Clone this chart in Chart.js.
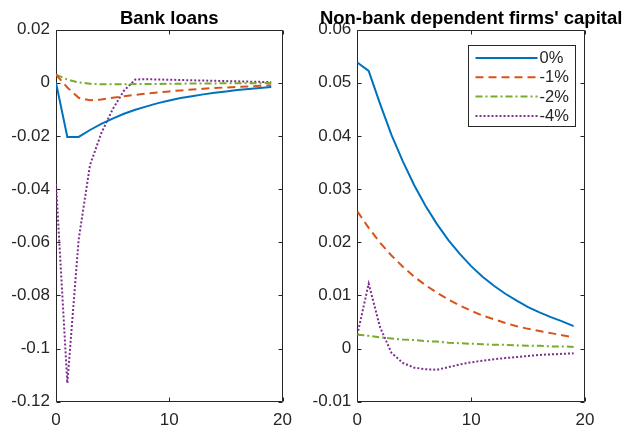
<!DOCTYPE html>
<html>
<head>
<meta charset="utf-8">
<script src="https://cdn.jsdelivr.net/npm/chart.js@4/dist/chart.umd.min.js"></script>
<style>
  html, body { margin: 0; padding: 0; background: #ffffff; }
  #wrap { position: relative; width: 626px; height: 428px; overflow: hidden; background: #ffffff; }
  .panel { position: absolute; top: 0; height: 428px; }
  #p1 { left: 0; width: 300px; }
  #p2 { left: 300px; width: 326px; }
</style>
</head>
<body>
<div id="wrap">
  <div class="panel" id="p1"><canvas id="loansChart"></canvas></div>
  <div class="panel" id="p2"><canvas id="capitalChart"></canvas></div>
</div>
<script>
// Quarters after the shock
const periods = [0, 1, 2, 3, 4, 5, 6, 7, 8, 9, 10, 11, 12, 13, 14, 15, 16, 17, 18, 19];
const seriesLabels = ['0%', '-1%', '-2%', '-4%'];

// Bank loans responses
const loans0  = [0, -0.0204, -0.0204, -0.0178, -0.0155, -0.0135, -0.0117, -0.0102, -0.0089, -0.0077, -0.0067, -0.0058, -0.0051, -0.0044, -0.0038, -0.0033, -0.0028, -0.0024, -0.0020, -0.0016];
const loansM1 = [0.003, -0.0018, -0.0057, -0.0066, -0.0063, -0.0057, -0.0051, -0.0046, -0.0041, -0.0037, -0.0033, -0.0029, -0.0026, -0.0023, -0.0020, -0.0018, -0.0016, -0.0014, -0.0012, -0.0010];
const loansM2 = [0.003, 0.0012, 0.0001, -0.0004, -0.0006, -0.0006, -0.0006, -0.0005, -0.0005, -0.0005, -0.0004, -0.0004, -0.0003, -0.0003, -0.0003, -0.0002, -0.0002, -0.0002, -0.0002, -0.0001];
const loansM4 = [-0.038, -0.113, -0.059, -0.031, -0.019, -0.010, -0.003, 0.0012, 0.0013, 0.0012, 0.0011, 0.0010, 0.0009, 0.0008, 0.0007, 0.0006, 0.0005, 0.0004, 0.0003, 0.0002];

// Non-bank dependent firms' capital responses
const capital0  = [0.0538, 0.0522, 0.0460, 0.0402, 0.0352, 0.0307, 0.0268, 0.0234, 0.0204, 0.0178, 0.0155, 0.0135, 0.0118, 0.0103, 0.0090, 0.0078, 0.0068, 0.0059, 0.0051, 0.0042];
const capitalM1 = [0.0258, 0.0227, 0.0199, 0.0175, 0.0154, 0.0135, 0.0119, 0.0105, 0.0092, 0.0081, 0.0071, 0.0062, 0.0055, 0.0048, 0.0042, 0.0037, 0.0033, 0.0029, 0.0025, 0.0021];
const capitalM2 = [0.0026, 0.0024, 0.0021, 0.0019, 0.0017, 0.0016, 0.0014, 0.0013, 0.0011, 0.0010, 0.0009, 0.0008, 0.0007, 0.0007, 0.0006, 0.0005, 0.0005, 0.0004, 0.0004, 0.0003];
const capitalM4 = [0.0026, 0.0122, 0.0040, -0.0008, -0.0027, -0.0036, -0.0039, -0.0040, -0.0035, -0.0030, -0.0026, -0.0023, -0.0020, -0.0018, -0.0016, -0.0014, -0.0012, -0.0011, -0.0010, -0.0009];

// Axis ticks
const xTicks = [0, 10, 20];
const loansTicks = [0.02, 0, -0.02, -0.04, -0.06, -0.08, -0.1, -0.12];
const capitalTicks = [0.06, 0.05, 0.04, 0.03, 0.02, 0.01, 0, -0.01];

const AXIS = '#262626';
const FONT = '"Liberation Sans", Arial, Helvetica, sans-serif';
const TICK_LEN = 4;

const lineStyles = [
  { borderColor: 'rgb(0,114,189)',  borderDash: [] },
  { borderColor: 'rgb(217,83,25)',  borderDash: [8, 5] },
  { borderColor: 'rgb(119,172,48)', borderDash: [7, 3, 2, 3] },
  { borderColor: 'rgb(126,47,142)', borderDash: [2, 2] }
];

function makeDatasets(seriesList) {
  return seriesList.map((vals, i) => ({
    label: seriesLabels[i],
    data: periods.map((p, k) => ({ x: p, y: vals[k] })),
    borderColor: lineStyles[i].borderColor,
    borderDash: lineStyles[i].borderDash,
    borderWidth: 2,
    pointRadius: 0,
    tension: 0,
    fill: false
  }));
}

// Box around the axes with inward tick marks on all four sides
const framePlugin = {
  id: 'frame',
  beforeDatasetsDraw(chart) {
    const { ctx, chartArea: a, scales: { x, y } } = chart;
    const L = Math.round(a.left) + 0.5, R = Math.round(a.right) - 0.5;
    const T = Math.round(a.top) + 0.5, B = Math.round(a.bottom) - 0.5;
    ctx.save();
    ctx.strokeStyle = AXIS;
    ctx.lineWidth = 1;
    ctx.beginPath();
    ctx.rect(L, T, R - L, B - T);
    x.ticks.forEach(t => {
      const px = Math.round(x.getPixelForValue(t.value)) + 0.5;
      ctx.moveTo(px, B); ctx.lineTo(px, B - TICK_LEN);
      ctx.moveTo(px, T); ctx.lineTo(px, T + TICK_LEN);
    });
    y.ticks.forEach(t => {
      const py = Math.round(y.getPixelForValue(t.value)) + 0.5;
      ctx.moveTo(L, py); ctx.lineTo(L + TICK_LEN, py);
      ctx.moveTo(R, py); ctx.lineTo(R - TICK_LEN, py);
    });
    ctx.stroke();
    ctx.restore();
  }
};

// Bold panel title centred over the plot area
const panelTitlePlugin = {
  id: 'panelTitle',
  afterDraw(chart, args, opts) {
    const { ctx, chartArea: a } = chart;
    ctx.save();
    ctx.font = 'bold 18.5px ' + FONT;
    ctx.fillStyle = '#000000';
    ctx.textAlign = 'center';
    ctx.textBaseline = 'alphabetic';
    ctx.fillText(opts.text, (a.left + a.right) / 2, 23.5);
    ctx.restore();
  }
};

// Boxed legend in the upper right of the plot area
const boxedLegendPlugin = {
  id: 'boxedLegend',
  afterDraw(chart, args, opts) {
    if (!opts.show) return;
    const { ctx, chartArea: a } = chart;
    const w = 107, h = 81;
    const left = Math.round(a.right - 10 - w) + 0.5;
    const top = Math.round(a.top + 15) + 0.5;
    ctx.save();
    ctx.fillStyle = '#ffffff';
    ctx.fillRect(left, top, w, h);
    ctx.strokeStyle = AXIS;
    ctx.lineWidth = 1;
    ctx.strokeRect(left, top, w, h);
    ctx.font = '16.5px ' + FONT;
    ctx.textAlign = 'left';
    ctx.textBaseline = 'middle';
    chart.data.datasets.forEach((ds, i) => {
      const cy = top + 12.5 + i * 19.3;
      ctx.beginPath();
      ctx.strokeStyle = ds.borderColor;
      ctx.lineWidth = 2;
      ctx.setLineDash(ds.borderDash || []);
      ctx.moveTo(left + 7, cy);
      ctx.lineTo(left + 69, cy);
      ctx.stroke();
      ctx.setLineDash([]);
      ctx.fillStyle = AXIS;
      ctx.fillText(ds.label, left + 71, cy + 0.5);
    });
    ctx.restore();
  }
};

function makeChart(canvasId, seriesList, yTicks, yMin, yMax, title, yWidth, padRight, showLegend) {
  return new Chart(document.getElementById(canvasId), {
    type: 'line',
    data: { datasets: makeDatasets(seriesList) },
    options: {
      responsive: true,
      maintainAspectRatio: false,
      animation: false,
      devicePixelRatio: 1,
      layout: { padding: { left: 0, right: padRight, top: 29.5, bottom: 0 } },
      plugins: {
        legend: { display: false },
        tooltip: { enabled: false },
        panelTitle: { text: title },
        boxedLegend: { show: showLegend }
      },
      scales: {
        x: {
          type: 'linear',
          min: 0, max: 20,
          afterBuildTicks: s => { s.ticks = xTicks.map(v => ({ value: v })); },
          afterFit: s => { s.height = 26.3; },
          grid: { display: false, drawTicks: false },
          border: { display: false },
          ticks: {
            color: AXIS, font: { family: FONT, size: 17 },
            padding: 8, maxRotation: 0, autoSkip: false,
            callback: v => String(v)
          }
        },
        y: {
          type: 'linear',
          min: yMin, max: yMax,
          afterBuildTicks: s => { s.ticks = yTicks.map(v => ({ value: v })); },
          afterFit: s => { s.width = yWidth; },
          grid: { display: false, drawTicks: false },
          border: { display: false },
          ticks: {
            color: AXIS, font: { family: FONT, size: 17 },
            padding: 6, autoSkip: false,
            callback: v => (v === 0 ? '0' : String(v))
          }
        }
      }
    },
    plugins: [framePlugin, panelTitlePlugin, boxedLegendPlugin]
  });
}

makeChart('loansChart', [loans0, loansM1, loansM2, loansM4], loansTicks, -0.12, 0.02,
  'Bank loans', 56, 16, false);
makeChart('capitalChart', [capital0, capitalM1, capitalM2, capitalM4], capitalTicks, -0.01, 0.06,
  "Non-bank dependent firms' capital", 57.3, 41, true);
</script>
</body>
</html>
